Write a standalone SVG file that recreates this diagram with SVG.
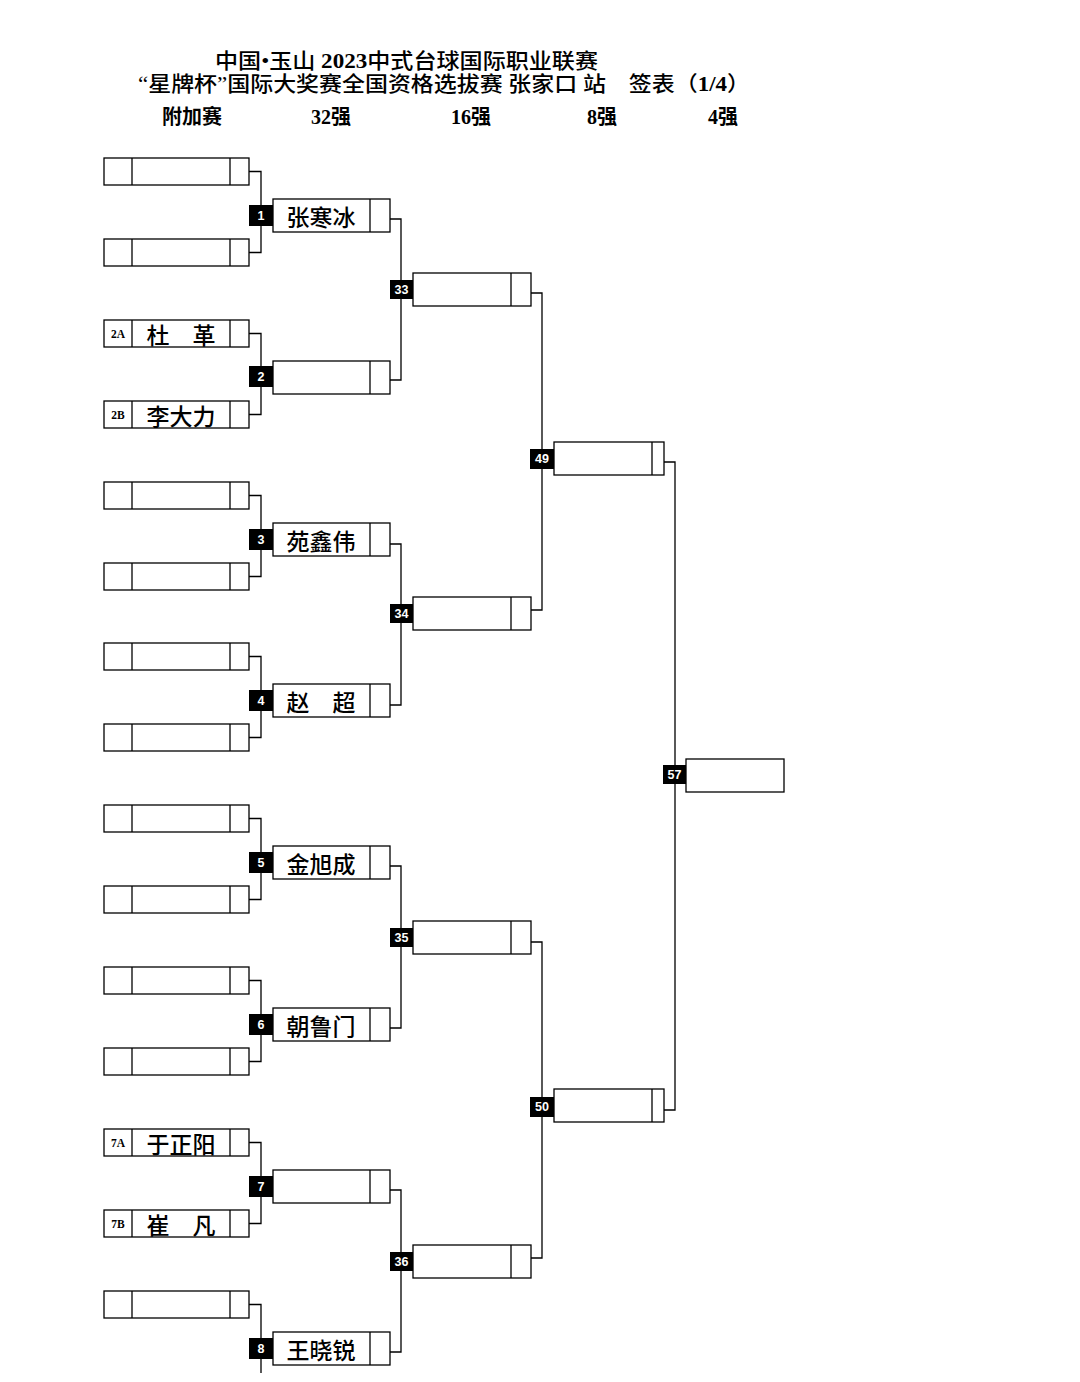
<svg xmlns="http://www.w3.org/2000/svg" width="1080" height="1382" viewBox="0 0 1080 1382">
<style>
.box{fill:#fff;stroke:#000;stroke-width:1.3}
.ln{fill:none;stroke:#000;stroke-width:1.3}
.bd{fill:#000}
.bn{fill:#fff;font-family:"Liberation Sans",sans-serif;font-weight:bold;font-size:12.5px;text-anchor:middle;dominant-baseline:central}
.nm{fill:#000;font-family:"Noto Sans CJK SC",sans-serif;font-weight:500;font-size:23px;text-anchor:middle;dominant-baseline:central}
.lab{fill:#000;font-family:"Liberation Serif",serif;font-weight:bold;font-size:11.5px;text-anchor:middle;dominant-baseline:central}
.tt{fill:#000;font-family:"Liberation Serif","Noto Sans CJK SC",serif;font-weight:500;font-size:21px}
.b{font-weight:bold}
.hd{fill:#000;font-family:"Liberation Serif","Noto Sans CJK SC",serif;font-weight:bold;font-size:20px;text-anchor:middle}
</style>
<defs>
<g id="lb"><rect class="box" x="104" y="0" width="145" height="27"/><line class="ln" x1="132" y1="0" x2="132" y2="27"/><line class="ln" x1="230" y1="0" x2="230" y2="27"/></g>
<g id="r1"><rect class="box" x="273" y="0" width="117" height="33"/><line class="ln" x1="370" y1="0" x2="370" y2="33"/></g>
<g id="r2"><rect class="box" x="413" y="0" width="118" height="33"/><line class="ln" x1="511" y1="0" x2="511" y2="33"/></g>
<g id="r3"><rect class="box" x="554" y="0" width="110" height="33"/><line class="ln" x1="652" y1="0" x2="652" y2="33"/></g>
</defs>
<rect width="1080" height="1382" fill="#fff"/>
<g id="title">
<text class="tt" x="215" y="68" textLength="383" lengthAdjust="spacingAndGlyphs">中国•玉山 <tspan class="b">2023</tspan>中式台球国际职业联赛</text>
<text class="tt" x="138" y="91" textLength="612" lengthAdjust="spacingAndGlyphs">“星牌杯”国际大奖赛全国资格选拔赛 张家口 站　签表（<tspan class="b">1/4</tspan>）</text>
<text class="hd" x="192" y="124">附加赛</text>
<text class="hd" x="331" y="124">32强</text>
<text class="hd" x="471" y="124">16强</text>
<text class="hd" x="602" y="124">8强</text>
<text class="hd" x="723" y="124">4强</text>
</g>
<g id="connectors">
<path class="ln" d="M249,171.5 H261 V252.5 H249"/>
<path class="ln" d="M249,333.5 H261 V414.5 H249"/>
<path class="ln" d="M249,495.5 H261 V576.5 H249"/>
<path class="ln" d="M249,656.5 H261 V737.5 H249"/>
<path class="ln" d="M249,818.5 H261 V899.5 H249"/>
<path class="ln" d="M249,980.5 H261 V1061.5 H249"/>
<path class="ln" d="M249,1142.5 H261 V1223.5 H249"/>
<path class="ln" d="M249,1304.5 H261 V1373"/>
<path class="ln" d="M390,219 H401 V380 H390"/>
<path class="ln" d="M390,544 H401 V705 H390"/>
<path class="ln" d="M390,866 H401 V1028 H390"/>
<path class="ln" d="M390,1190 H401 V1352 H390"/>
<path class="ln" d="M531,293 H542 V610 H531"/>
<path class="ln" d="M531,942 H542 V1258 H531"/>
<path class="ln" d="M664,462 H675 V1110 H664"/>
</g>
<g id="prelim">
<use href="#lb" y="158"/><use href="#lb" y="239"/>
<use href="#lb" y="320"/><use href="#lb" y="401"/>
<use href="#lb" y="482"/><use href="#lb" y="563"/>
<use href="#lb" y="643"/><use href="#lb" y="724"/>
<use href="#lb" y="805"/><use href="#lb" y="886"/>
<use href="#lb" y="967"/><use href="#lb" y="1048"/>
<use href="#lb" y="1129"/><use href="#lb" y="1210"/>
<use href="#lb" y="1291"/>
<text class="lab" x="118" y="334">2A</text><text class="nm" x="181" y="334">杜　革</text>
<text class="lab" x="118" y="415">2B</text><text class="nm" x="181" y="415">李大力</text>
<text class="lab" x="118" y="1143">7A</text><text class="nm" x="181" y="1143">于正阳</text>
<text class="lab" x="118" y="1224">7B</text><text class="nm" x="181" y="1224">崔　凡</text>
</g>
<g id="m1"><use href="#r1" y="199"/><rect class="bd" x="249" y="205" width="24" height="21"/><text class="bn" x="261" y="215.5">1</text><text class="nm" x="321" y="215.5">张寒冰</text></g>
<g id="m2"><use href="#r1" y="361"/><rect class="bd" x="249" y="366" width="24" height="21"/><text class="bn" x="261" y="376.5">2</text></g>
<g id="m3"><use href="#r1" y="523"/><rect class="bd" x="249" y="529" width="24" height="21"/><text class="bn" x="261" y="539.5">3</text><text class="nm" x="321" y="539.5">苑鑫伟</text></g>
<g id="m4"><use href="#r1" y="684"/><rect class="bd" x="249" y="690" width="24" height="21"/><text class="bn" x="261" y="700.5">4</text><text class="nm" x="321" y="700.5">赵　超</text></g>
<g id="m5"><use href="#r1" y="846"/><rect class="bd" x="249" y="852" width="24" height="21"/><text class="bn" x="261" y="862.5">5</text><text class="nm" x="321" y="862.5">金旭成</text></g>
<g id="m6"><use href="#r1" y="1008"/><rect class="bd" x="249" y="1014" width="24" height="21"/><text class="bn" x="261" y="1024.5">6</text><text class="nm" x="321" y="1024.5">朝鲁门</text></g>
<g id="m7"><use href="#r1" y="1170"/><rect class="bd" x="249" y="1176" width="24" height="21"/><text class="bn" x="261" y="1186.5">7</text></g>
<g id="m8"><use href="#r1" y="1332"/><rect class="bd" x="249" y="1338" width="24" height="21"/><text class="bn" x="261" y="1348.5">8</text><text class="nm" x="321" y="1348.5">王晓锐</text></g>
<g id="m33"><use href="#r2" y="273"/><rect class="bd" x="390" y="280" width="23" height="19"/><text class="bn" x="401.5" y="289.5">33</text></g>
<g id="m34"><use href="#r2" y="597"/><rect class="bd" x="390" y="604" width="23" height="19"/><text class="bn" x="401.5" y="613.5">34</text></g>
<g id="m35"><use href="#r2" y="921"/><rect class="bd" x="390" y="928" width="23" height="19"/><text class="bn" x="401.5" y="937.5">35</text></g>
<g id="m36"><use href="#r2" y="1245"/><rect class="bd" x="390" y="1252" width="23" height="19"/><text class="bn" x="401.5" y="1261.5">36</text></g>
<g id="m49"><use href="#r3" y="442"/><rect class="bd" x="530" y="449" width="24" height="20"/><text class="bn" x="542" y="459">49</text></g>
<g id="m50"><use href="#r3" y="1089"/><rect class="bd" x="530" y="1097" width="24" height="20"/><text class="bn" x="542" y="1107">50</text></g>
<g id="m57"><rect class="box" x="686" y="759" width="98" height="33"/><rect class="bd" x="663" y="765" width="23" height="19"/><text class="bn" x="674.5" y="774.5">57</text></g>
</svg>
